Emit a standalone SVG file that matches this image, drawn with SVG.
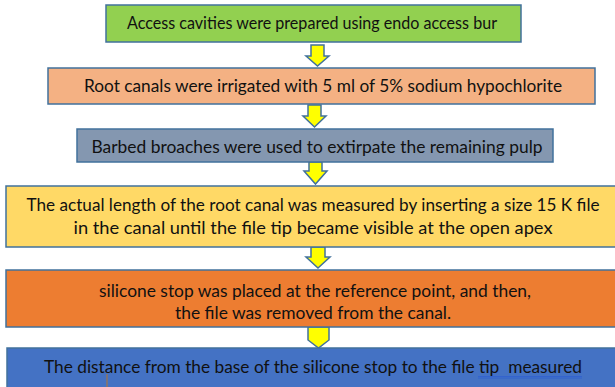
<svg xmlns="http://www.w3.org/2000/svg" width="615" height="387" viewBox="0 0 615 387">
  <style>
    .box { stroke: #41719C; stroke-width: 1.5; }
    .arrow { fill: #FFFF00; stroke: #41719C; stroke-width: 1.5; stroke-linejoin: miter; }
    text { font-family: "Lato", "Liberation Sans", sans-serif; font-size: 16.5px; fill: #111; text-anchor: middle; white-space: pre; }
  </style>
  <rect width="615" height="387" fill="#FFFFFF"/>

  <!-- connectors: block arrows between steps -->
  <g id="connectors">
    <path class="arrow" d="M311,45 H324 V56 H329 L317.5,66 L306,56 H311 Z"/>
    <path class="arrow" d="M308,105 H321 V116 H326 L314.5,127 L303,116 H308 Z"/>
    <path class="arrow" d="M309,162 H322 V171 H327 L315.5,184 L304,171 H309 Z"/>
    <path class="arrow" d="M311,247 H325 V257 H330 L318,268 L306,257 H311 Z"/>
    <path class="arrow" d="M308,327 H329 V340 L318.5,348 L308,340 Z"/>
  </g>

  <g id="step1">
    <rect class="box" x="106" y="5" width="415" height="37" fill="#92D050"/>
    <text x="312" y="29" textLength="370" lengthAdjust="spacingAndGlyphs">Access cavities were prepared using endo access bur</text>
  </g>

  <g id="step2">
    <rect class="box" x="48" y="68" width="547" height="36" fill="#F4B183"/>
    <text x="323" y="92" textLength="478" lengthAdjust="spacingAndGlyphs">Root canals were irrigated with 5 ml of 5% sodium hypochlorite</text>
  </g>

  <g id="step3">
    <rect class="box" x="77" y="129" width="476" height="33" fill="#8497B0"/>
    <text x="317" y="153" textLength="451" lengthAdjust="spacingAndGlyphs">Barbed broaches were used to extirpate the remaining pulp</text>
  </g>

  <g id="step4">
    <rect class="box" x="6" y="186" width="612" height="61" fill="#FFD966"/>
    <text x="313" y="211" textLength="573" lengthAdjust="spacingAndGlyphs">The actual length of the root canal was measured by inserting a size 15 K file</text>
    <text x="313" y="234" textLength="479" lengthAdjust="spacingAndGlyphs">in the canal until the file tip became visible at the open apex</text>
  </g>

  <g id="step5">
    <rect class="box" x="6" y="270" width="612" height="57" fill="#ED7D31"/>
    <text x="315" y="297" textLength="432" lengthAdjust="spacingAndGlyphs">silicone stop was placed at the reference point, and then,</text>
    <text x="313" y="319" textLength="276" lengthAdjust="spacingAndGlyphs">the file was removed from the canal.</text>
  </g>

  <g id="step6">
    <rect class="box" x="7" y="348" width="612" height="45" fill="#4472C4"/>
    <text x="313" y="373" textLength="538" lengthAdjust="spacingAndGlyphs">The distance from the base of the silicone stop to the file tip  measured</text>
    <!-- underline beneath the last words -->
    <line x1="478" y1="376.5" x2="582" y2="376.5" stroke="#2F5FD0" stroke-width="0.8"/>
    <line x1="478" y1="378" x2="582" y2="378" stroke="#2F5FD0" stroke-width="0.8"/>
    <line x1="107" y1="374" x2="107" y2="387" stroke="#B5742E" stroke-width="1"/>
  </g>
</svg>
